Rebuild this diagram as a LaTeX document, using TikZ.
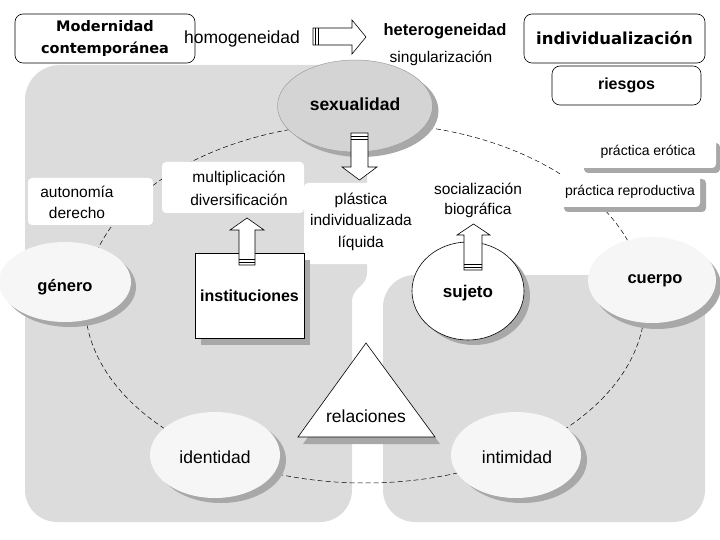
\documentclass[tikz,border=0pt]{standalone}
\usepackage{fontspec}
\setmainfont{Liberation Sans}
\newfontfamily\verd{DejaVu Sans}
\usetikzlibrary{shapes.geometric}
\definecolor{bggray}{HTML}{DCDCDC}
\definecolor{shgray}{HTML}{A8A8A8}
\definecolor{ellgray}{HTML}{D4D4D4}
\definecolor{lightfill}{HTML}{F6F6F6}
\begin{document}
\begin{tikzpicture}[x=1pt,y=-1pt,
  txt/.style={inner sep=0pt, align=center},
  smalltxt/.style={txt, font=\fontsize{15.5}{21.5}\selectfont},
  tinytxt/.style={txt, font=\fontsize{14}{17}\selectfont},
  boldtxt/.style={txt, font=\fontsize{16.5}{20}\selectfont\bfseries},
  regtxt/.style={txt, font=\fontsize{17.5}{20}\selectfont},
  labelbox/.style={fill=white, rounded corners=4pt},
  shad/.style={fill=shgray},
  tagbox/.style={draw=black, fill=white, rounded corners=8pt, line width=0.6pt, inner sep=0pt, align=center},
  blockarrow/.style={draw=black, fill=white, line width=0.6pt, line join=miter},
  stripe/.style={draw=black, line width=0.6pt},
  lightell/.style={ellipse, fill=lightfill, inner sep=0pt},
]
\useasboundingbox (0,0) rectangle (720,540);

% ---------- grey background panels ----------
\fill[bggray] (25,300) [rounded corners=35pt] -- (25,65) -- (367,65) [sharp corners] -- (367,272)
   .. controls (367,288) and (352,286) .. (352,302) [rounded corners=32pt] -- (352,522) -- (25,522) -- cycle;
\fill[bggray, rounded corners=32pt] (383,275) rectangle (705,522);

% ---------- dashed ring ----------
\draw[line width=0.5pt, dash pattern=on 5pt off 3pt] (365,303) ellipse [x radius=280, y radius=180];

% ---------- white label boxes ----------
\fill[labelbox] (28,178) rectangle (153,225);
\fill[labelbox] (162,162) rectangle (304,213);
\fill[labelbox] (304,183) rectangle (420,264);
\fill[shad, rounded corners=4pt] (584,143) rectangle (720,173);
\fill[labelbox] (580,138) rectangle (716,168);
\fill[shad, rounded corners=4pt] (564,179) rectangle (706,212);
\fill[labelbox] (558,174) rectangle (700,207);

% ---------- top row ----------
\node (modern) [tagbox, minimum width=180pt, minimum height=49pt, font=\verd\bfseries\fontsize{14.5}{22}\selectfont] at (105,38.5) {Modernidad\\contemporánea};
\node (homo) [regtxt] at (242,39) {homogeneidad};
\node (het) [boldtxt] at (445,31) {heterogeneidad};
\node (sing) [smalltxt] at (441,58) {singularización};
\node (indiv) [tagbox, minimum width=181pt, minimum height=49pt, font=\verd\bfseries\fontsize{16.5}{20}\selectfont] at (614.5,38.5) {individualización};
\node (ries) [tagbox, minimum width=149pt, minimum height=39pt, font=\fontsize{16}{19}\selectfont\bfseries] at (626.5,85.5) {riesgos};

\draw[blockarrow] (313,28) -- (352,28) -- (352,20) -- (366,37) -- (352,54) -- (352,45) -- (313,45) -- cycle;
\draw[stripe] (315.5,28) -- (315.5,45) (318,28) -- (318,45);

% ---------- sexualidad ----------
\fill[shad] (361,111) ellipse [x radius=77.5, y radius=46];
\node (sex) [ellipse, fill=ellgray, draw=gray!75, line width=0.5pt, minimum width=155pt, minimum height=92pt, inner sep=0pt] at (355,106) {};
\node (sextxt) [txt, font=\fontsize{17.5}{20}\selectfont\bfseries] at (355,104) {sexualidad};

% ---------- labels ----------
\node (auto) [smalltxt, font=\fontsize{15.5}{21}\selectfont] at (77,202.5) {autonomía\\derecho};
\node (mult) [smalltxt, font=\fontsize{15.5}{23}\selectfont] at (239,188.5) {multiplicación\\diversificación};
\node (plas) [smalltxt] at (361,221.5) {plástica\\individualizada\\líquida};
\node (soc) [smalltxt, font=\fontsize{15.5}{20}\selectfont] at (478,200) {socialización\\biográfica};
\node (erot) [tinytxt] at (648,152) {práctica erótica};
\node (repr) [tinytxt] at (630,192) {práctica reproductiva};

% ---------- género ----------
\fill[shad] (70,287) ellipse [x radius=66, y radius=40];
\node (gen) [lightell, minimum width=132pt, minimum height=80pt] at (65,282) {};
\node (gentxt) [boldtxt] at (65,287) {género};

% ---------- instituciones ----------
\fill[shad] (201,260) rectangle (310,345);
\node (inst) [draw=black, fill=white, line width=0.6pt, minimum width=109pt, minimum height=85pt, inner sep=0pt] at (249.5,295.5) {};
\node (insttxt) [boldtxt, font=\fontsize{16}{20}\selectfont\bfseries] at (249.5,296) {instituciones};

% ---------- sujeto ----------
\fill[shad] (474,296) ellipse [x radius=56, y radius=49];
\node (suj) [ellipse, draw=black, fill=white, line width=0.6pt, minimum width=112pt, minimum height=98pt, inner sep=0pt] at (468,291) {};
\node (sujtxt) [boldtxt, font=\fontsize{17}{20}\selectfont\bfseries] at (468,293) {sujeto};

% ---------- cuerpo ----------
\fill[shad] (657,286) ellipse [x radius=64, y radius=43];
\node (cue) [lightell, minimum width=128pt, minimum height=86pt] at (652,280) {};
\node (cuetxt) [boldtxt] at (655,281) {cuerpo};

% ---------- relaciones ----------
\coordinate (ta) at (366,343);
\coordinate (tb) at (298,437);
\coordinate (tc) at (435,437);
\fill[shad] ([shift={(5,7)}]ta) -- ([shift={(5,7)}]tb) -- ([shift={(5,7)}]tc) -- cycle;
\draw[fill=white, line width=0.6pt, line join=miter] (ta) -- (tb) -- (tc) -- cycle;
\node (rel) [regtxt] at (366,416) {relaciones};

% ---------- identidad / intimidad ----------
\fill[shad] (221,460) ellipse [x radius=65, y radius=43];
\node (ident) [lightell, minimum width=130pt, minimum height=86pt] at (215,455) {};
\node (identtxt) [regtxt] at (215,457) {identidad};
\fill[shad] (522,460) ellipse [x radius=65, y radius=43];
\node (intim) [lightell, minimum width=130pt, minimum height=86pt] at (516,455) {};
\node (intimtxt) [regtxt] at (517,457) {intimidad};

% ---------- block arrows ----------
\draw[blockarrow] (351,133) -- (368,133) -- (368,167) -- (377,167) -- (359.5,180) -- (342,167) -- (351,167) -- cycle;
\draw[stripe] (351,136) -- (368,136) (351,139) -- (368,139);

\draw[blockarrow] (239,265) -- (239,230) -- (230,230) -- (247,218) -- (264,230) -- (255,230) -- (255,265) -- cycle;
\draw[stripe] (239,259) -- (255,259) (239,262) -- (255,262);

\draw[blockarrow] (464,270) -- (464,235) -- (457,235) -- (473.5,224) -- (490,235) -- (482,235) -- (482,270) -- cycle;
\draw[stripe] (464,264) -- (482,264) (464,267) -- (482,267);
\end{tikzpicture}
\end{document}
